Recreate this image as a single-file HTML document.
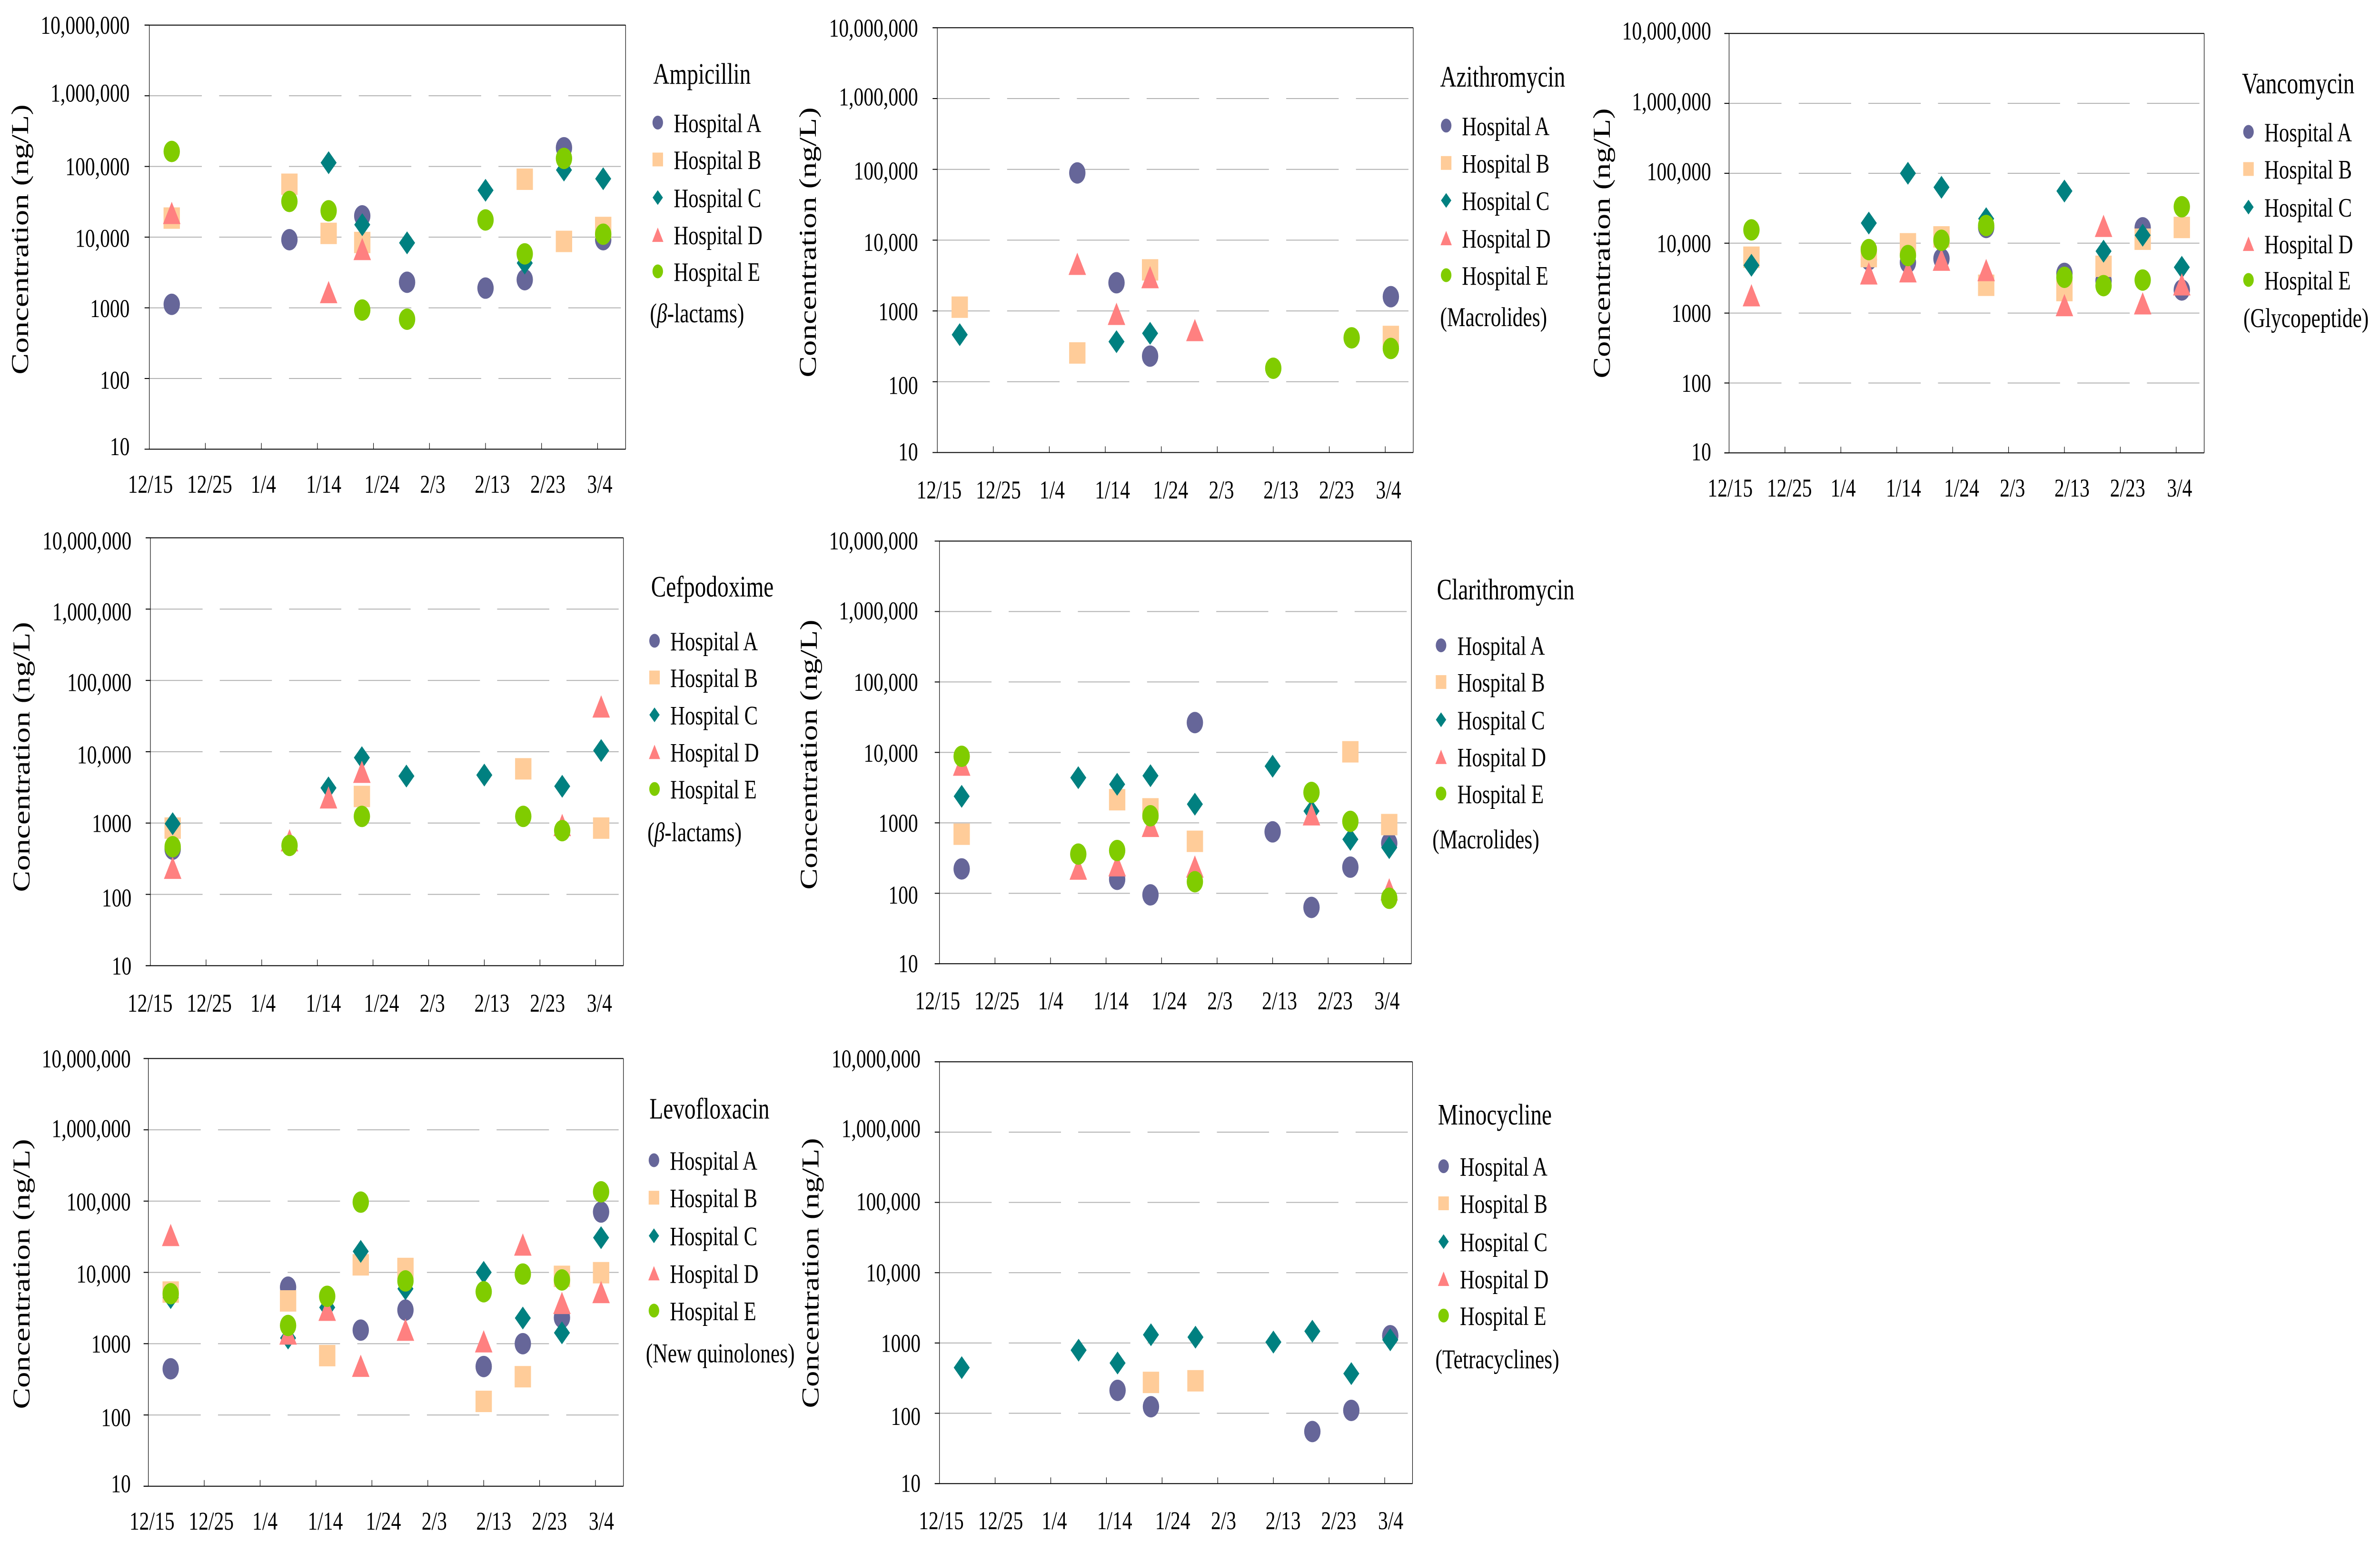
<!DOCTYPE html>
<html lang="en">
<head>
<meta charset="utf-8">
<title>Antibiotic concentrations by hospital</title>
<style>
html,body{margin:0;padding:0;background:#fff;width:100%;height:100%;overflow:hidden;}
svg{display:block;width:100vw;height:100vh;}
text{font-family:"Liberation Serif","DejaVu Serif",serif;fill:#000;}
</style>
</head>
<body>
<svg id="figure" xmlns="http://www.w3.org/2000/svg" viewBox="0 0 6551 3241" preserveAspectRatio="none"></svg>
<script>
// ---- shared axes ----
const sampleDays = [4, 25, 32, 38, 46, 60, 67, 74, 81];
const xTickDays = [0, 10, 20, 30, 40, 50, 60, 70, 80];
const xTickLabels = ["12/15", "12/25", "1/4", "1/14", "1/24", "2/3", "2/13", "2/23", "3/4"];
const yTickValues = [10000000, 1000000, 100000, 10000, 1000, 100, 10];
const yTickLabels = ["10,000,000", "1,000,000", "100,000", "10,000", "1000", "100", "10"];
const hospitals = ["Hospital A", "Hospital B", "Hospital C", "Hospital D", "Hospital E"];

// ---- series values (ng/L), one value per sampling day ----
const ampicillinA = [1120, 9200, null, 20000, 2300, 1900, 2500, 184000, 9200];
const ampicillinB = [18600, 56000, 11300, 8400, null, null, 66000, 8700, 13700];
const ampicillinC = [null, null, 113000, 15000, 8300, 46000, 4300, 89000, 67000];
const ampicillinD = [22000, null, 1670, 6800, null, null, null, null, null];
const ampicillinE = [163000, 32000, 23600, 930, 690, 17500, 5800, 130000, 11000];

const azithromycinA = [null, 89000, 2500, 230, null, null, null, null, 1590];
const azithromycinB = [1130, 255, null, 3800, null, null, null, null, 436];
const azithromycinC = [462, null, 368, 483, null, null, null, null, null];
const azithromycinD = [null, 4630, 910, 3000, 537, null, null, null, null];
const azithromycinE = [null, null, null, null, null, 155, null, 417, 295];

const vancomycinA = [null, 5800, 5300, 6000, 16800, 3700, 2900, 16600, 2140];
const vancomycinB = [6300, 6430, 9800, 12300, 2500, 2100, 4670, 11400, 16800];
const vancomycinC = [4830, 19400, 100000, 63000, 22400, 55700, 7680, 13000, 4520];
const vancomycinD = [1800, 3700, 3960, 5800, 4130, 1300, 17700, 1380, 2580];
const vancomycinE = [15500, 8100, 6660, 11000, 17900, 3250, 2470, 2970, 33200];

const cefpodoximeA = [430, null, null, null, null, null, null, null, null];
const cefpodoximeB = [850, null, null, 2360, null, null, 5760, null, 850];
const cefpodoximeC = [980, null, 3110, 8260, 4560, 4710, null, 3280, 10400];
const cefpodoximeD = [236, 575, 2290, 5240, null, null, null, 940, 43200];
const cefpodoximeE = [466, 486, null, 1240, null, null, 1240, 783, null];

const clarithromycinA = [222, null, 158, 95, 26500, 745, 63, 235, 515];
const clarithromycinB = [690, null, 2130, 1580, 547, null, null, 10200, 945];
const clarithromycinC = [2380, 4380, 3530, 4670, 1840, 6370, 1470, 583, 445];
const clarithromycinD = [6700, 224, 250, 906, 240, null, 1320, null, 114];
const clarithromycinE = [8800, 360, 405, 1260, 146, null, 2700, 1050, 85];

const levofloxacinA = [444, 6200, null, 1550, 2960, 478, 1000, 2320, 70300];
const levofloxacinB = [5300, 3980, 680, 12760, 11350, 155, 344, 8800, 9900];
const levofloxacinC = [4430, 1200, 3220, 19700, 5890, 10000, 2290, 1420, 30700];
const levofloxacinD = [33500, 1390, 2990, 490, 1570, 1080, 24600, 3730, 5300];
const levofloxacinE = [5020, 1800, 4620, 96700, 7590, 5350, 9480, 7830, 135000];

const minocyclineA = [null, null, 212, 124, null, null, 55, 110, 1270];
const minocyclineB = [null, null, null, 275, 290, null, null, null, null];
const minocyclineC = [446, 790, 519, 1310, 1210, 1030, 1470, 367, 1110];
const minocyclineD = [null, null, null, null, null, null, null, null, null];
const minocyclineE = [null, null, null, null, null, null, null, null, null];

// ---- panel layout (page geometry only, no data) ----
const seriesColors = ["#666699", "#FFCC99", "#008080", "#FF8080", "#80CC00"];
const seriesShapes = ["circle", "square", "diamond", "triangle", "circle"];
const xLabelOffsets = [3, 166, 314, 480, 640, 780, 944, 1097, 1240];
const panels = [
 {key:"ampicillin", title:"Ampicillin", note:"lactams", greek:true, series:[ampicillinA,ampicillinB,ampicillinC,ampicillinD,ampicillinE],
  L:411,R:1722,T:52.7,B:943.5, yLabelRight:357, yNudge:[0,-6,0,2,1,3,-6], xDx:0, xBase:1035, titleX:77, titleY:503,
  legTitleX:1798, legTitleY:176, markX:1810.5, textX:1854.5, rows:[257.5,335,415,493,570], noteX:1789, noteY:677},
 {key:"azithromycin", title:"Azithromycin", note:"(Macrolides)", series:[azithromycinA,azithromycinB,azithromycinC,azithromycinD,azithromycinE],
  L:2580,R:3890,T:58.3,B:950.5, yLabelRight:2527, yNudge:[0,-4,3,4,1,7,-2], xDx:2, xBase:1047, titleX:2246, titleY:509,
  legTitleX:3964, legTitleY:182, markX:3980.6, textX:4024, rows:[263.8,342.3,421,500,578], noteX:3964, noteY:685},
 {key:"vancomycin", title:"Vancomycin", note:"(Glycopeptide)", series:[vancomycinA,vancomycinB,vancomycinC,vancomycinD,vancomycinE],
  L:4759.3,R:6067,T:70.3,B:951.3, yLabelRight:4710, yNudge:[-6,-4,-4,0,0,0,-3], xDx:0, xBase:1043, titleX:4431, titleY:511,
  legTitleX:6171, legTitleY:196, markX:6189, textX:6232.6, rows:[277,355,435,512,588], noteX:6175, noteY:687},
 {key:"cefpodoxime", title:"Cefpodoxime", note:"lactams", greek:true, series:[cefpodoximeA,cefpodoximeB,cefpodoximeC,cefpodoximeD,cefpodoximeE],
  L:414,R:1716,T:1129.6,B:2028.4, yLabelRight:362, yNudge:[6,5,4,6,0,7,0], xDx:-4, xBase:2125, titleX:81, titleY:1590,
  legTitleX:1792, legTitleY:1253, markX:1801.6, textX:1845, rows:[1345.9,1423,1501.5,1579.3,1657.2], noteX:1782, noteY:1767},
 {key:"clarithromycin", title:"Clarithromycin", note:"(Macrolides)", series:[clarithromycinA,clarithromycinB,clarithromycinC,clarithromycinD,clarithromycinE],
  L:2585.9,R:3885,T:1136.5,B:2024.3, yLabelRight:2527, yNudge:[-1,-2,0,1,0,3,-1], xDx:-8, xBase:2120, titleX:2248, titleY:1585,
  legTitleX:3955, legTitleY:1259, markX:3966.5, textX:4011.4, rows:[1355.5,1432.6,1511.8,1589.7,1666.8], noteX:3942.7, noteY:1782},
 {key:"levofloxacin", title:"Levofloxacin", note:"(New quinolones)", series:[levofloxacinA,levofloxacinB,levofloxacinC,levofloxacinD,levofloxacinE],
  L:408.3,R:1716,T:2223.4,B:3121.8, yLabelRight:360, yNudge:[0,-3,1,3,0,5,-6], xDx:7, xBase:3213, titleX:81, titleY:2676,
  legTitleX:1787.6, legTitleY:2349.4, markX:1800, textX:1843.7, rows:[2437,2515.7,2595.7,2674.3,2752.9], noteX:1777.7, noteY:2861.5},
 {key:"minocycline", title:"Minocycline", note:"(Tetracyclines)", series:[minocyclineA,minocyclineB,minocyclineC,minocyclineD,minocyclineE],
  L:2585.9,R:3888,T:2230.3,B:3116.2, yLabelRight:2534, yNudge:[-7,-8,-2,0,0,6,-1], xDx:2, xBase:3212, titleX:2253, titleY:2674,
  legTitleX:3958, legTitleY:2361.8, markX:3973.5, textX:4018.4, rows:[2449.6,2527.5,2608,2686,2763.2], noteX:3951, noteY:2874}
];

const SVG_NS = "http://www.w3.org/2000/svg";
const figure = document.getElementById("figure");

function make(parent, tag, props, content) {
  const el = document.createElementNS(SVG_NS, tag);
  for (const k in props) el.setAttribute(k, props[k]);
  if (content !== undefined) el.textContent = content;
  parent.appendChild(el);
  return el;
}

function drawMarker(parent, shape, cx, cy, size, color) {
  // size: nominal marker width in px
  const r = size / 2;
  if (shape === "circle") {
    return make(parent, "ellipse", {cx: cx, cy: cy, rx: r, ry: r, fill: color});
  }
  if (shape === "square") {
    return make(parent, "rect", {x: cx - r, y: cy - r, width: size, height: size, fill: color});
  }
  if (shape === "diamond") {
    const h = r * 1.07, w = r * 0.98;
    return make(parent, "polygon", {points: cx + "," + (cy - h) + " " + (cx + w) + "," + cy + " " + cx + "," + (cy + h) + " " + (cx - w) + "," + cy, fill: color});
  }
  const w = r * 1.07, h = r * 1.04;
  return make(parent, "polygon", {points: cx + "," + (cy - h) + " " + (cx + w) + "," + (cy + h) + " " + (cx - w) + "," + (cy + h), fill: color});
}

function drawPanel(p) {
  const xAxis = function (day) { return p.L + (p.R - p.L) * day / 85; };
  const yAxis = function (value) { return p.T + (7 - Math.log10(value)) * (p.B - p.T) / 6; };

  const g = make(figure, "g", {});
  
  

  // gridlines (broken, as in the source figure)
  const dashScale = (p.R - p.L) / 1311;
  yTickValues.forEach(function (v, i) {
    if (i === 0 || i === yTickValues.length - 1) return;
    const line = make(g, "line", {x1: p.L, x2: p.R - 13 * dashScale, y1: yAxis(v), y2: yAxis(v), stroke: "#b2b2b2", "stroke-width": 2, "stroke-dasharray": (144.6 * dashScale) + " " + (47.6 * dashScale)});
    
    
  });

  // frame
  const frameTop = make(g, "line", {x1: p.L - 13, x2: p.R, y1: p.T, y2: p.T, stroke: "#000", "stroke-width": 2});
  
  
  const frameRight = make(g, "line", {x1: p.R, x2: p.R, y1: p.T, y2: p.B, stroke: "#000", "stroke-width": 1.5});
  
  
  const yLine = make(g, "line", {x1: p.L, x2: p.L, y1: p.T, y2: p.B, stroke: "#000", "stroke-width": 1.5});
  
  
  const xLine = make(g, "line", {x1: p.L - 13, x2: p.R, y1: p.B, y2: p.B, stroke: "#000", "stroke-width": 2});
  
  

  // y ticks and labels
  yTickValues.forEach(function (v, i) {
    const y = yAxis(v);
    const tick = make(g, "line", {x1: p.L - 13, x2: p.L, y1: y, y2: y, stroke: "#000", "stroke-width": 2});
    
    
    const label = make(g, "text", {x: p.yLabelRight, y: y + p.yNudge[i] + 18.5, "font-size": 54.5, "text-anchor": "end"}, yTickLabels[i]);
    
    
  });

  // x ticks and labels
  xTickDays.forEach(function (d, i) {
    const x = xAxis(d);
    if (i > 0) {
      const tick = make(g, "line", {x1: x, x2: x, y1: p.B - 13, y2: p.B, stroke: "#000", "stroke-width": 1.5});
      
      
    }
    const label = make(g, "text", {x: p.L + xLabelOffsets[i] + p.xDx, y: p.xBase, "font-size": 54.5, "text-anchor": "middle"}, xTickLabels[i]);
    
    
  });

  // y-axis title
  const yTitle = make(g, "text", {x: p.titleX, y: p.titleY, "font-size": 67, "text-anchor": "middle", transform: "rotate(-90 " + p.titleX + " " + p.titleY + ")"}, "Concentration (ng/L)");
  
  

  // series
  p.series.forEach(function (values, s) {
    const sg = make(g, "g", {});
    
    
    values.forEach(function (v, i) {
      if (v === null) return;
      const m = drawMarker(sg, seriesShapes[s], xAxis(sampleDays[i]), yAxis(v), 45, seriesColors[s]);
      
      
    });
  });

  // legend
  const drug = make(g, "text", {x: p.legTitleX, y: p.legTitleY, "font-size": 62}, p.title);
  
  
  hospitals.forEach(function (name, s) {
    const row = make(g, "g", {});
    
    
    const key = drawMarker(row, seriesShapes[s], p.markX, p.rows[s], 29, seriesColors[s]);
    
    
    const text = make(row, "text", {x: p.textX, y: p.rows[s] + 20, "font-size": 56}, name);
    
    
  });
  const note = make(g, "text", {x: p.noteX, y: p.noteY, "font-size": 57}, p.greek ? "(" : p.note);
  
  
  if (p.greek) {
    make(note, "tspan", {"font-style": "italic"}, "\u03B2");
    make(note, "tspan", {}, "-" + p.note + ")");
  }
}

panels.forEach(drawPanel);
</script>
</body>
</html>
